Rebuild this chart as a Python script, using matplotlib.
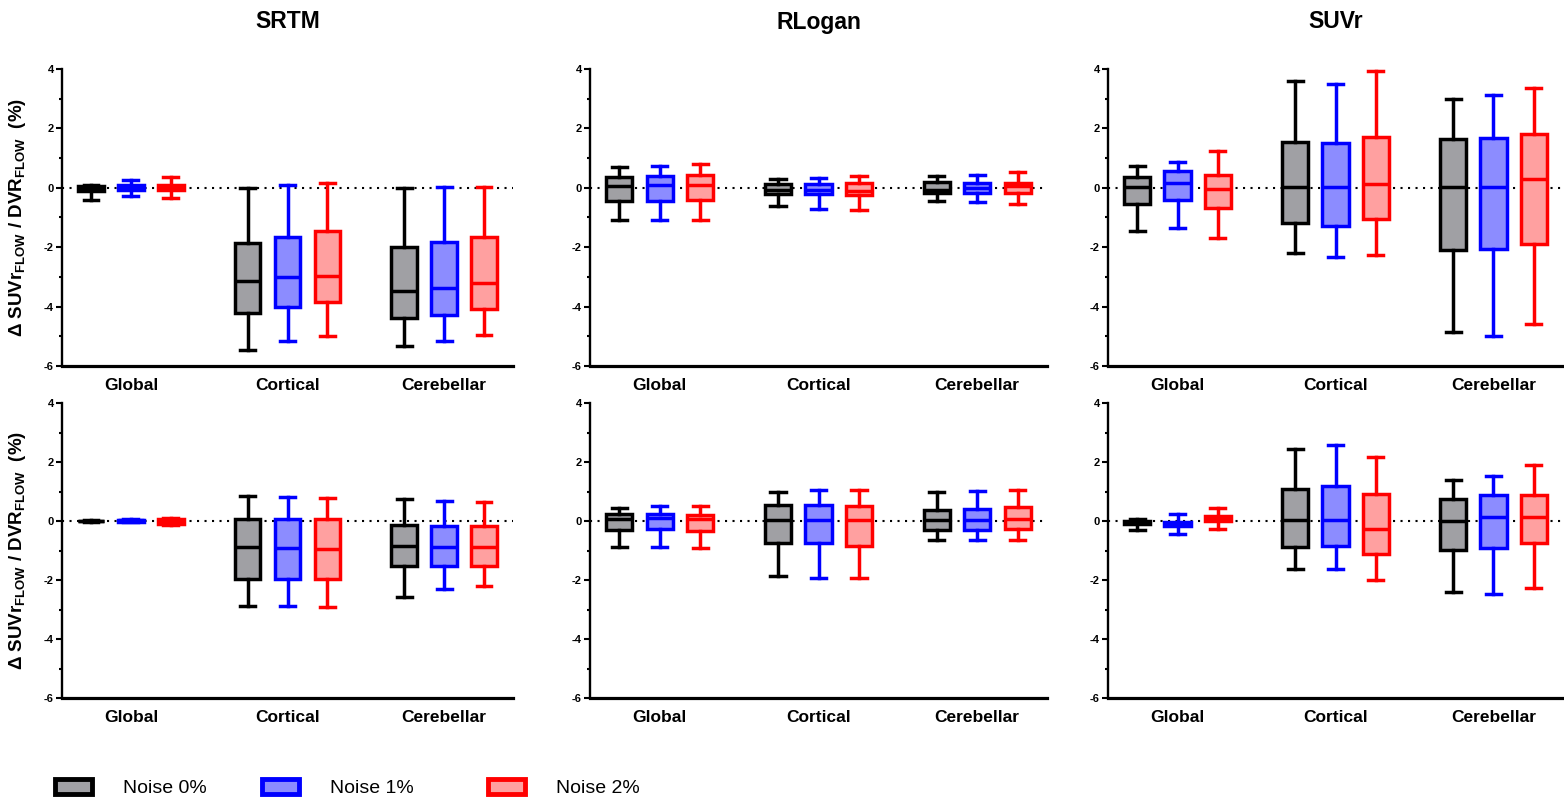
import matplotlib
matplotlib.use('Agg')
import matplotlib.pyplot as plt
from matplotlib.patches import Patch
from matplotlib.ticker import MultipleLocator

plt.rcParams['font.family'] = ['Liberation Sans', 'DejaVu Sans']
plt.rcParams['mathtext.fontset'] = 'custom'
plt.rcParams['mathtext.bf'] = 'Liberation Sans:bold'
plt.rcParams['mathtext.rm'] = 'Liberation Sans'
plt.rcParams['axes.unicode_minus'] = False

methods = ['SRTM', 'RLogan', 'SUVr']
regions = ['Global', 'Cortical', 'Cerebellar']
noise_labels = ['Noise 0%', 'Noise 1%', 'Noise 2%']

# rows: Global 0/1/2%, Cortical 0/1/2%, Cerebellar 0/1/2%
# cols: whisker low, q1, median, q3, whisker high
srtm_top = [
    [-0.42, -0.10, -0.02, 0.07, 0.10],
    [-0.29, -0.09, 0.00, 0.08, 0.27],
    [-0.33, -0.09, 0.00, 0.09, 0.35],
    [-5.45, -4.22, -3.15, -1.85, 0.01],
    [-5.15, -4.03, -2.99, -1.65, 0.10],
    [-4.98, -3.85, -2.96, -1.44, 0.16],
    [-5.31, -4.40, -3.46, -1.99, 0.01],
    [-5.16, -4.28, -3.37, -1.81, 0.02],
    [-4.94, -4.09, -3.19, -1.65, 0.03],
]
rlogan_top = [
    [-1.09, -0.45, 0.05, 0.35, 0.70],
    [-1.09, -0.43, 0.08, 0.39, 0.73],
    [-1.09, -0.42, 0.09, 0.42, 0.79],
    [-0.62, -0.20, -0.08, 0.13, 0.30],
    [-0.70, -0.22, -0.08, 0.13, 0.34],
    [-0.76, -0.25, -0.10, 0.15, 0.40],
    [-0.45, -0.17, -0.07, 0.18, 0.40],
    [-0.49, -0.18, -0.02, 0.15, 0.44],
    [-0.54, -0.16, 0.07, 0.15, 0.52],
]
suvr_top = [
    [-1.44, -0.55, 0.02, 0.37, 0.74],
    [-1.37, -0.40, 0.17, 0.57, 0.87],
    [-1.68, -0.67, -0.05, 0.44, 1.24],
    [-2.20, -1.19, 0.02, 1.55, 3.60],
    [-2.32, -1.30, 0.02, 1.52, 3.51],
    [-2.27, -1.05, 0.12, 1.72, 3.94],
    [-4.84, -2.11, 0.02, 1.65, 2.99],
    [-4.99, -2.06, 0.02, 1.66, 3.13],
    [-4.58, -1.89, 0.29, 1.82, 3.37],
]
srtm_bottom = [
    [-0.02, -0.01, 0.00, 0.01, 0.02],
    [-0.05, -0.02, 0.02, 0.05, 0.08],
    [-0.12, -0.10, 0.00, 0.08, 0.10],
    [-2.89, -1.97, -0.89, 0.08, 0.84],
    [-2.89, -1.97, -0.93, 0.08, 0.80],
    [-2.93, -1.97, -0.96, 0.08, 0.77],
    [-2.59, -1.54, -0.86, -0.12, 0.73],
    [-2.31, -1.54, -0.89, -0.16, 0.69],
    [-2.21, -1.54, -0.89, -0.16, 0.66],
]
rlogan_bottom = [
    [-0.87, -0.31, 0.07, 0.24, 0.44],
    [-0.87, -0.28, 0.11, 0.25, 0.52],
    [-0.90, -0.34, 0.07, 0.21, 0.52],
    [-1.87, -0.74, 0.02, 0.55, 1.00],
    [-1.93, -0.74, 0.02, 0.55, 1.04],
    [-1.93, -0.84, 0.02, 0.52, 1.04],
    [-0.63, -0.30, 0.02, 0.38, 1.00],
    [-0.66, -0.30, 0.02, 0.40, 1.01],
    [-0.66, -0.28, 0.07, 0.46, 1.06],
]
suvr_bottom = [
    [-0.30, -0.11, -0.04, 0.01, 0.06],
    [-0.44, -0.17, -0.09, -0.03, 0.24],
    [-0.27, 0.01, 0.10, 0.17, 0.43],
    [-1.64, -0.89, 0.02, 1.08, 2.43],
    [-1.64, -0.86, 0.04, 1.20, 2.57],
    [-2.01, -1.12, -0.28, 0.90, 2.17],
    [-2.41, -0.99, 0.01, 0.74, 1.39],
    [-2.46, -0.90, 0.15, 0.89, 1.54],
    [-2.26, -0.74, 0.12, 0.89, 1.89],
]

edge_colors = ['#000000', '#0000FF', '#FF0000']
fill_colors = ['#A0A0A4', '#8C8CFF', '#FFA0A0']

W, H = 1564, 801
fig = plt.figure(figsize=(W / 100, H / 100), dpi=100)

lefts = [62, 590, 1108]
widths = [451, 457, 455]
rows = [(69, 366), (403, 698)]
panels = [[srtm_top, rlogan_top, suvr_top], [srtm_bottom, rlogan_bottom, suvr_bottom]]

ylabel = 'Δ SUVr$_{\\mathbf{FLOW}}$ / DVR$_{\\mathbf{FLOW}}$  (%)'
lw = 2.5

for r, (ytop, ybot) in enumerate(rows):
    for c in range(3):
        ax = fig.add_axes([lefts[c] / W, 1 - ybot / H, widths[c] / W, (ybot - ytop) / H])
        vals = panels[r][c]
        ax.axhline(0, color='black', lw=1.5, linestyle=(0, (1, 2.6)), zorder=1)
        for k in range(3):
            stats = []
            for g in range(3):
                lo, q1, med, q3, hi = vals[g * 3 + k]
                stats.append(dict(whislo=lo, q1=q1, med=med, q3=q3, whishi=hi))
            ax.bxp(stats, positions=[g + (k - 1) * 0.255 for g in range(3)],
                   widths=0.165, capwidths=0.095, showfliers=False, patch_artist=True,
                   boxprops=dict(facecolor=fill_colors[k], edgecolor=edge_colors[k], linewidth=lw),
                   medianprops=dict(color=edge_colors[k], linewidth=lw),
                   whiskerprops=dict(color=edge_colors[k], linewidth=lw),
                   capprops=dict(color=edge_colors[k], linewidth=lw),
                   zorder=3)
        ax.set_xlim(-0.44, 2.44)
        ax.set_ylim(-6, 4)
        ax.set_xticks([0, 1, 2])
        ax.set_xticklabels(regions, fontsize=12.5, fontweight='bold')
        ax.tick_params(axis='x', length=0, pad=9)
        ax.yaxis.set_major_locator(MultipleLocator(2))
        ax.yaxis.set_minor_locator(MultipleLocator(1))
        ax.tick_params(axis='y', which='major', length=4, width=1.5, labelsize=8, pad=2)
        ax.tick_params(axis='y', which='minor', length=2.5, width=1.5)
        for lab in ax.get_yticklabels():
            lab.set_fontweight('bold')
        ax.spines['top'].set_visible(False)
        ax.spines['right'].set_visible(False)
        ax.spines['left'].set_linewidth(1.7)
        ax.spines['bottom'].set_linewidth(2.3)
        if c == 0:
            ax.set_ylabel(ylabel, fontsize=13.5, fontweight='bold')
            ax.yaxis.set_label_coords(-0.075, 0.5)
        if r == 0:
            fig.text((lefts[c] + widths[c] / 2) / W, 1 - 22 / H, methods[c],
                     ha='center', va='center', fontsize=16.5, fontweight='bold')

legend_x = [55, 262, 488]
for k in range(3):
    handle = Patch(facecolor=fill_colors[k], edgecolor=edge_colors[k], linewidth=3.5)
    fig.legend([handle], [noise_labels[k]], loc='center left',
               bbox_to_anchor=(legend_x[k] / W, 1 - 788 / H), frameon=False,
               fontsize=14, handlelength=1.9, handleheight=0.8, handletextpad=1.6,
               borderpad=0, borderaxespad=0)

fig.savefig('out.png', dpi=100)
